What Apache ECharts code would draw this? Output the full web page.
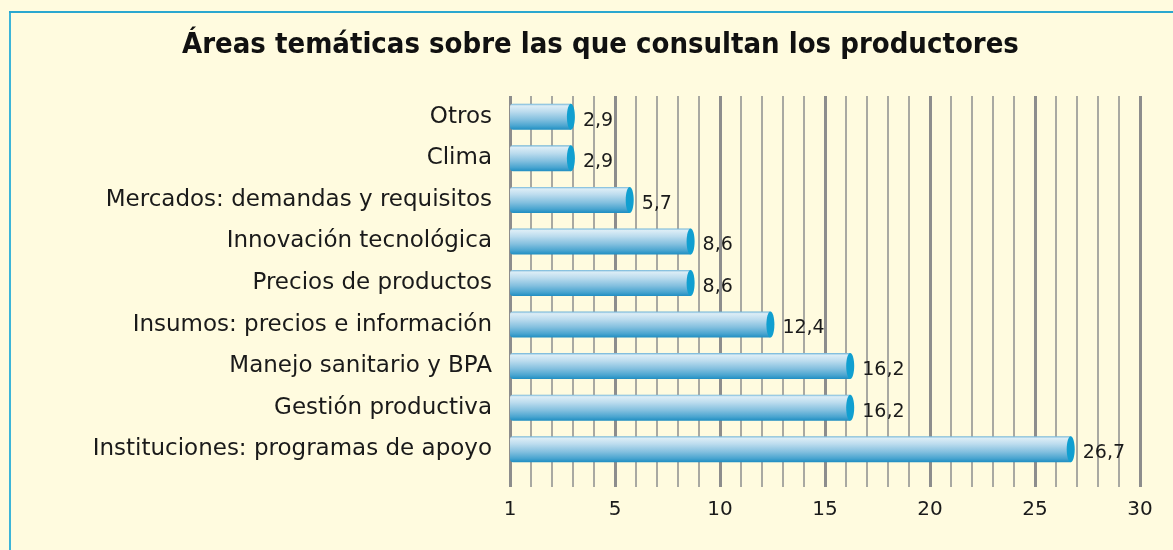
<!DOCTYPE html>
<html>
<head>
<meta charset="utf-8">
<script src="https://cdn.jsdelivr.net/npm/echarts@6/dist/echarts.min.js"></script>
<style>
  html, body { margin: 0; padding: 0; background: #fffbdf; }
  #chart { width: 1173px; height: 550px; }
</style>
</head>
<body>
<div id="chart"></div>
<script>
const categories = [
  'Otros',
  'Clima',
  'Mercados: demandas y requisitos',
  'Innovación tecnológica',
  'Precios de productos',
  'Insumos: precios e información',
  'Manejo sanitario y BPA',
  'Gestión productiva',
  'Instituciones: programas de apoyo'
]
const values = [2.9, 2.9, 5.7, 8.6, 8.6, 12.4, 16.2, 16.2, 26.7]
const tickLabels = { 0: '1', 5: '5', 10: '10', 15: '15', 20: '20', 25: '25', 30: '30' }

const chart = echarts.init(document.getElementById('chart'))

const ellipse = 'path://M50,0 C77.6,0 100,22.4 100,50 C100,77.6 77.6,100 50,100 C22.4,100 0,77.6 0,50 C0,22.4 22.4,0 50,0 Z'

chart.setOption({
  backgroundColor: '#fffbdf',
  animation: false,
  title: {
    text: 'Áreas temáticas sobre las que consultan los productores',
    left: 177,
    top: 26,
    textStyle: {
      fontFamily: 'DejaVu Sans Condensed',
      fontWeight: 'bold',
      fontSize: 29,
      color: '#111'
    }
  },
  graphic: [
    { type: 'line', shape: { x1: 10, y1: 11, x2: 10, y2: 560 }, style: { stroke: '#3db5d8', lineWidth: 2 } },
    { type: 'line', shape: { x1: 9, y1: 12, x2: 1180, y2: 12 }, style: { stroke: '#2aa7cf', lineWidth: 2 } }
  ],
  grid: { left: 510, right: 33, top: 96, height: 374 },
  xAxis: {
    type: 'value',
    min: 0,
    max: 30,
    interval: 5,
    minorTick: { show: true, splitNumber: 5, length: 17, lineStyle: { color: '#a9a9a2', width: 2 } },
    minorSplitLine: { show: true, lineStyle: { color: '#a9a9a2', width: 2 } },
    splitLine: { show: true, lineStyle: { color: '#8d8d8d', width: 3 } },
    axisLine: { show: false },
    axisTick: { show: true, length: 17, lineStyle: { color: '#8d8d8d', width: 3 } },
    axisLabel: {
      margin: 30,
      fontFamily: 'DejaVu Sans',
      fontSize: 20,
      color: '#1a1a1a',
      formatter: (v) => tickLabels[v] ?? ''
    }
  },
  yAxis: {
    type: 'category',
    inverse: true,
    data: categories,
    axisLine: { show: false },
    axisTick: { show: false },
    axisLabel: {
      margin: 18,
      fontFamily: 'DejaVu Sans',
      fontSize: 23,
      color: '#1a1a1a'
    }
  },
  series: [
    {
      type: 'bar',
      data: values,
      barWidth: 26,
      itemStyle: {
        borderRadius: [3, 0, 0, 3],
        color: new echarts.graphic.LinearGradient(0, 0, 0, 1, [
          { offset: 0, color: '#6fb4d8' },
          { offset: 0.08, color: '#dcedf6' },
          { offset: 0.3, color: '#bcdcee' },
          { offset: 0.6, color: '#84c0df' },
          { offset: 0.85, color: '#4aa5d0' },
          { offset: 1, color: '#1f8ec2' }
        ])
      },
      label: {
        show: true,
        position: 'right',
        distance: 12,
        offset: [0, 4],
        fontFamily: 'DejaVu Sans',
        fontSize: 19,
        color: '#1a1a1a',
        formatter: (p) => String(p.value).replace('.', ',')
      }
    },
    {
      type: 'scatter',
      data: values.map((v, i) => [v, i]),
      symbol: ellipse,
      symbolSize: [8, 26],
      itemStyle: { color: '#119fd0', opacity: 1 },
      z: 5
    }
  ]
})
</script>
</body>
</html>
